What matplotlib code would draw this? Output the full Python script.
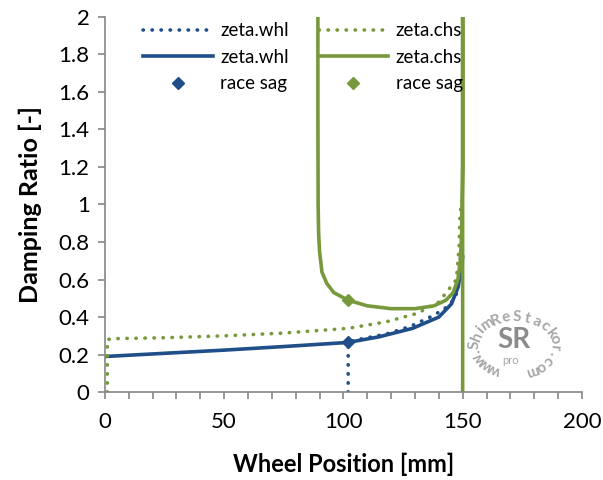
import numpy as np
import matplotlib.pyplot as plt
from matplotlib.ticker import MultipleLocator, FuncFormatter

plt.rcParams['font.family'] = ['Lato', 'DejaVu Sans']

# data
whl_dot_x = [102, 102, 104, 110, 118, 128, 138, 144.7, 147.7, 148.5, 148.9, 149.3]
whl_dot_y = [0, 0.265, 0.275, 0.29, 0.31, 0.35, 0.41, 0.465, 0.53, 0.615, 0.69, 0.75]

whl_x = [0, 25, 50, 75, 102, 115, 129, 140, 145.3, 148.1, 149.3, 150]
whl_y = [0.19, 0.207, 0.224, 0.243, 0.265, 0.295, 0.34, 0.40, 0.47, 0.56, 0.65, 0.72]

chs_dot_x = [1, 1, 3, 25, 50, 75, 102, 118, 131, 140, 147.4, 148.5, 148.9, 149.5, 150]
chs_dot_y = [0, 0.28, 0.285, 0.29, 0.30, 0.315, 0.34, 0.375, 0.42, 0.48, 0.6, 0.775, 0.95, 1.0, 1.05]

chs_x = [89.3, 89.3, 89.4, 89.6, 90, 91, 93, 96, 102, 110, 120, 130, 138, 143, 146, 148, 149, 149.6, 150, 150, 150]
chs_y = [2.0, 1.5, 1.0, 0.85, 0.75, 0.64, 0.58, 0.53, 0.49, 0.46, 0.445, 0.445, 0.46, 0.49, 0.53, 0.6, 0.7, 0.85, 1.2, 2.0, 0.0]

sag_x = 102
sag_whl = 0.265
sag_chs = 0.49

blue = '#1F4E89'
green = '#77993C'
grey = '#868686'

fig = plt.figure(figsize=(6.03, 4.8), dpi=100)
ax = fig.add_axes([0.174, 0.183, 0.791, 0.782])

dots = (0, (0.1, 2.4))
ax.plot(whl_dot_x, whl_dot_y, color=blue, lw=2.6, linestyle=dots, dash_capstyle='round', label='zeta.whl')
ax.plot(whl_x, whl_y, color=blue, lw=2.6, label='zeta.whl')
ax.plot([sag_x], [sag_whl], 'D', color=blue, ms=6, label='race sag')
ax.plot(chs_dot_x, chs_dot_y, color=green, lw=2.6, linestyle=dots, dash_capstyle='round', label='zeta.chs')
ax.plot(chs_x, chs_y, color=green, lw=2.6, label='zeta.chs')
ax.plot([sag_x], [sag_chs], 'D', color=green, ms=6, label='race sag')

ax.set_xlim(0, 200)
ax.set_ylim(0, 2)
ax.xaxis.set_major_locator(MultipleLocator(50))
ax.xaxis.set_minor_locator(MultipleLocator(10))
ax.yaxis.set_major_locator(MultipleLocator(0.2))
ax.yaxis.set_major_formatter(FuncFormatter(lambda v, p: '%g' % round(v, 1)))

for s in ['top', 'right']:
    ax.spines[s].set_visible(False)
for s in ['left', 'bottom']:
    ax.spines[s].set_color(grey)
    ax.spines[s].set_linewidth(1.2)
ax.tick_params(which='both', direction='out', color=grey, length=5, width=1.2, labelsize=16)
ax.tick_params(axis='x', pad=9)
ax.tick_params(axis='y', pad=6)

ax.set_xlabel('Wheel Position [mm]', fontsize=17, fontweight='bold', labelpad=15)
ax.set_ylabel('Damping Ratio [-]', fontsize=18, fontweight='bold', labelpad=12)

ax.legend(ncol=2, loc='upper left', bbox_to_anchor=(0.045, 1.03), frameon=False,
          fontsize=13.5, handlelength=3.7, handletextpad=0.4, columnspacing=1.6,
          labelspacing=0.5)

# watermark
cx, cy, rx, ry = 515, 345, 40, 28
txt = 'www.ShimReStackor.com'
angs = np.linspace(240, -65, len(txt))
for ch, a in zip(txt, angs):
    t = np.deg2rad(a)
    rot = np.degrees(np.arctan2(ry * np.cos(t), -rx * np.sin(t))) - 180
    fig.text((cx + rx * np.cos(t)) / 603, 1 - (cy - ry * np.sin(t)) / 480, ch,
             rotation=rot, ha='center', va='center', fontsize=11, fontweight='bold',
             color='#a6a6a6')
fig.text(514 / 603, 1 - 340 / 480, 'SR', ha='center', va='center', fontsize=20,
         fontweight='bold', color='#8c8c8c')
fig.text(511 / 603, 1 - 361 / 480, 'pro', ha='center', va='center', fontsize=8,
         color='#a6a6a6')

fig.savefig('out.png', dpi=100)
